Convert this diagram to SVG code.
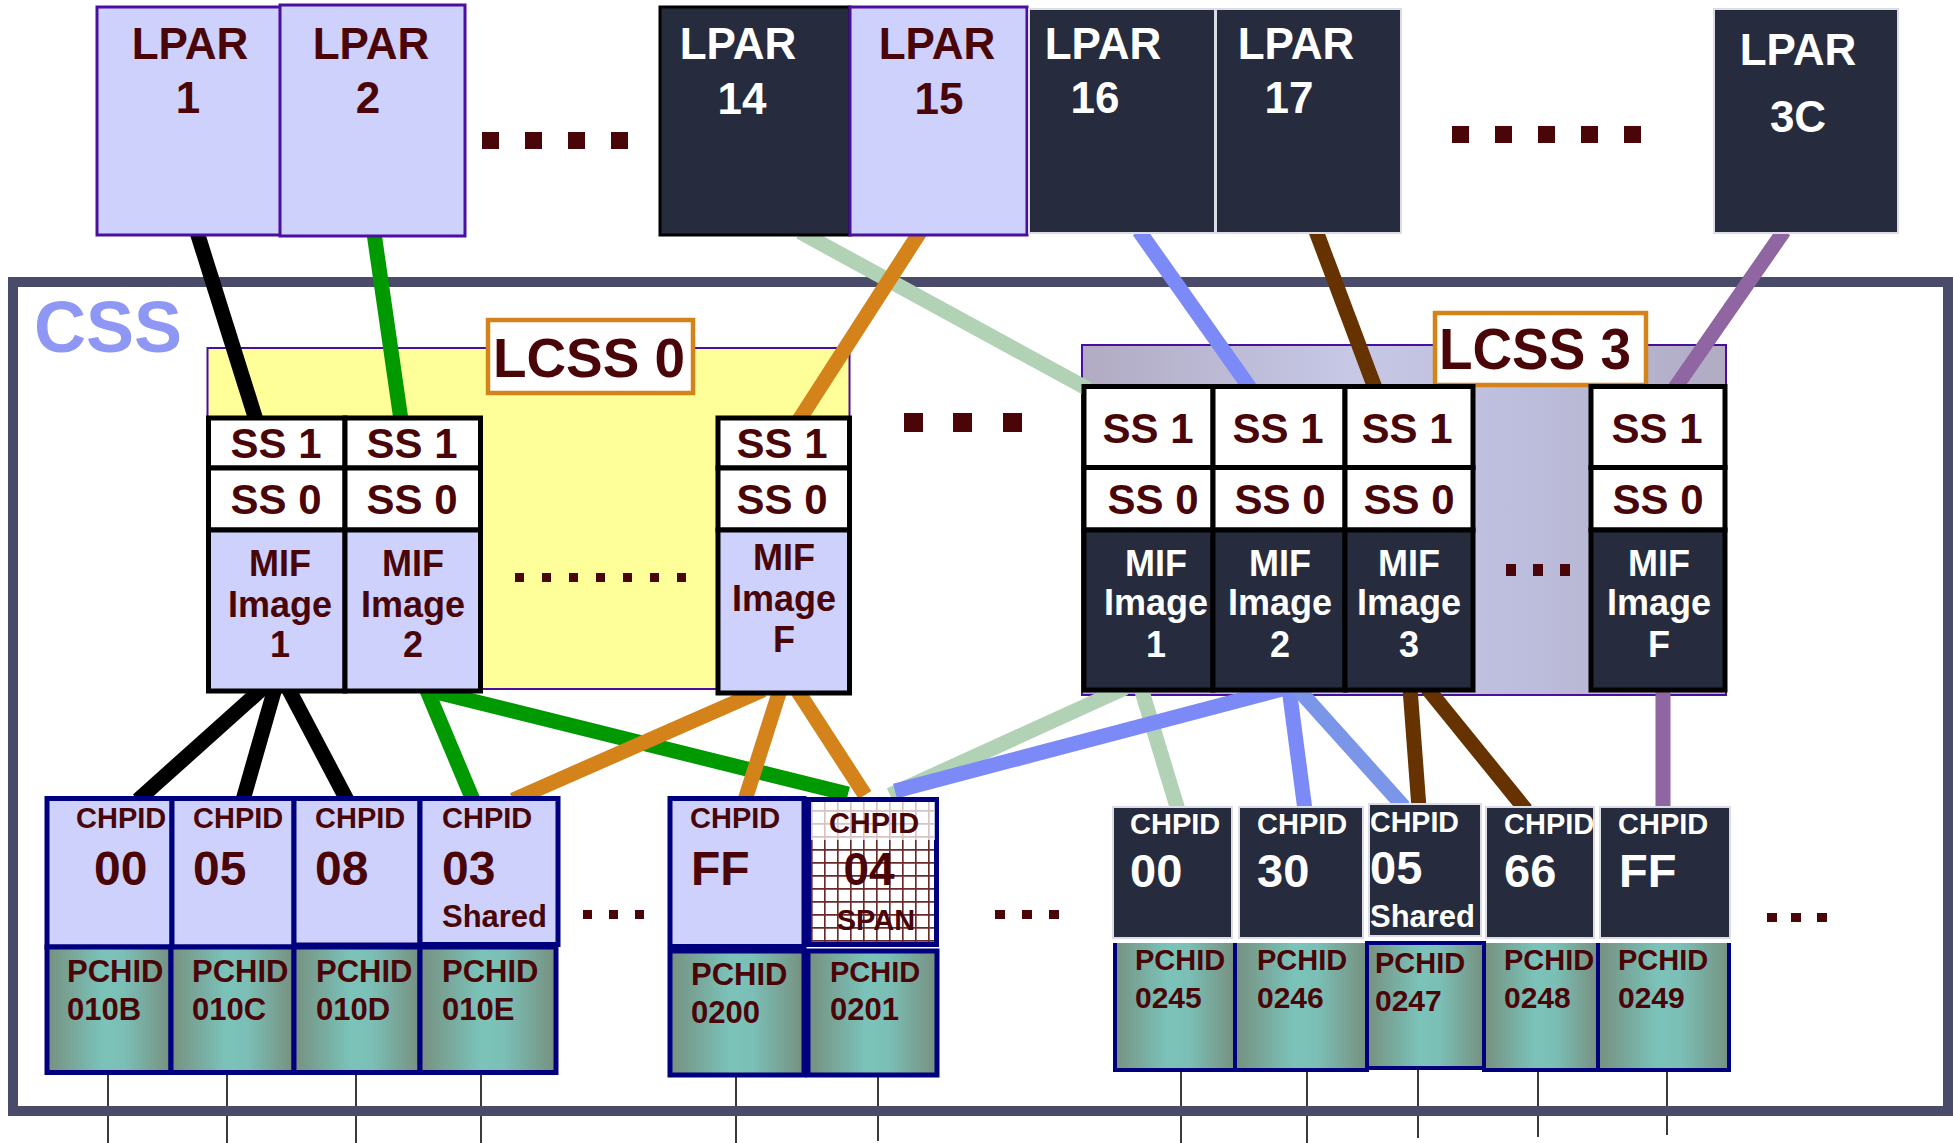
<svg xmlns="http://www.w3.org/2000/svg" width="1953" height="1143" viewBox="0 0 1953 1143">
<style>
.t{font-family:"Liberation Sans",Arial,sans-serif;font-weight:bold}
.m{fill:#4a0508}.w{fill:#ffffff}.c{text-anchor:middle}
.lpl{fill:#cdd1fb;stroke:#4b0fa0;stroke-width:3}
.lpd{fill:#262b3e;stroke:#dcdce6;stroke-width:2}
.ss{fill:#ffffff;stroke:#000;stroke-width:5}
.mifl{fill:#cdd1fb;stroke:#000;stroke-width:5}
.mifd{fill:#262b3e;stroke:#000;stroke-width:5}
.chl{fill:#cdd1fb;stroke:#00007f;stroke-width:5}
.chd{fill:#262b3e;stroke:#dcdce6;stroke-width:2}
.pcl{fill:url(#teal);stroke:#00007f;stroke-width:5}
.pcd{fill:url(#teal)}
.pb{fill:none;stroke:#00007f;stroke-width:4}
.dot{fill:#4a0508}
.thin{stroke:#3a3a3a;stroke-width:2}
.cn line{stroke-width:15;stroke-linecap:butt}
.k{stroke:#000}.g{stroke:#009900}.lg{stroke:#b1d2b4}.o{stroke:#d4821a}.b{stroke:#7b8af7}.b2{stroke:#7b96e8}.br{stroke:#663300}.p{stroke:#8f65a2}
</style>
<defs>
<linearGradient id="teal" x1="0" y1="0" x2="1" y2="0">
<stop offset="0" stop-color="#76907f"/><stop offset="0.45" stop-color="#7bc3ba"/><stop offset="0.62" stop-color="#7bbfb6"/><stop offset="1" stop-color="#76907f"/>
</linearGradient>
<linearGradient id="l3" x1="0" y1="0" x2="1" y2="0">
<stop offset="0" stop-color="#b1abc3"/><stop offset="0.42" stop-color="#c6c8e6"/><stop offset="0.7" stop-color="#bcbddc"/><stop offset="1" stop-color="#b1abc3"/>
</linearGradient>
<pattern id="grid" x="811" y="797" width="13" height="13" patternUnits="userSpaceOnUse">
<rect width="13" height="13" fill="#ffffff"/>
<path d="M0 0.75H13M0.75 0V13" stroke="#6b2a2a" stroke-width="1.8" fill="none"/>
</pattern>
</defs>
<rect width="1953" height="1143" fill="#ffffff"/>

<g id="pchid-wires">
<line class="thin" x1="108" y1="1073" x2="108" y2="1143"/>
<line class="thin" x1="227" y1="1073" x2="227" y2="1143"/>
<line class="thin" x1="356" y1="1073" x2="356" y2="1143"/>
<line class="thin" x1="481" y1="1073" x2="481" y2="1143"/>
<line class="thin" x1="736" y1="1075" x2="736" y2="1143"/>
<line class="thin" x1="878" y1="1075" x2="878" y2="1141"/>
<line class="thin" x1="1181" y1="1070" x2="1181" y2="1143"/>
<line class="thin" x1="1307" y1="1070" x2="1307" y2="1143"/>
<line class="thin" x1="1418" y1="1068" x2="1418" y2="1138"/>
<line class="thin" x1="1538" y1="1070" x2="1538" y2="1137"/>
<line class="thin" x1="1667" y1="1070" x2="1667" y2="1135"/>
</g>

<g id="css">
<rect x="13" y="282" width="1935" height="829" fill="none" stroke="#4a4a6a" stroke-width="10"/>
<text x="34" y="352" class="t" font-size="72" fill="#8f97f5">CSS</text>
</g>

<g id="lcss0">
<rect x="207.5" y="348" width="642" height="341" fill="#ffff99" stroke="#4b0fa0" stroke-width="2"/>
<rect x="488" y="320" width="205" height="73" fill="#ffffff" stroke="#d4821a" stroke-width="4.5"/>
<text x="589" y="377" class="t m c" font-size="56" textLength="192" lengthAdjust="spacingAndGlyphs">LCSS 0</text>
</g>

<g id="lcss3">
<rect x="1082" y="345" width="644" height="350" fill="url(#l3)" stroke="#4b0fa0" stroke-width="2"/>
<rect x="1435" y="313" width="211" height="72" fill="#ffffff" stroke="#d4821a" stroke-width="4.5"/>
<text x="1535" y="369" class="t m c" font-size="57" textLength="192" lengthAdjust="spacingAndGlyphs">LCSS 3</text>
</g>

<g id="connectors" class="cn">
<line class="k" x1="197" y1="232" x2="256" y2="420"/>
<line class="g" x1="374" y1="233" x2="401" y2="420"/>
<line class="lg" x1="800" y1="232" x2="1088" y2="389"/>
<line class="o" x1="920" y1="232" x2="799" y2="420"/>
<line class="b" x1="1139" y1="231" x2="1250" y2="388"/>
<line class="br" x1="1316" y1="231" x2="1375" y2="388"/>
<line class="p" x1="1784" y1="231" x2="1675" y2="388"/>
<line class="k" x1="263" y1="688" x2="138" y2="800"/>
<line class="k" x1="275" y1="688" x2="243" y2="800"/>
<line class="k" x1="288" y1="688" x2="347" y2="800"/>
<line class="g" x1="426" y1="688" x2="473" y2="800"/>
<line class="g" x1="428" y1="690" x2="848" y2="794"/>
<line class="o" x1="763" y1="690" x2="513" y2="800"/>
<line class="o" x1="780" y1="690" x2="745" y2="800"/>
<line class="o" x1="797" y1="690" x2="865" y2="795"/>
<line class="lg" x1="1125" y1="688" x2="890" y2="795"/>
<line class="lg" x1="1141" y1="688" x2="1178" y2="810"/>
<line class="b" x1="1286" y1="688" x2="895" y2="791"/>
<line class="b" x1="1289" y1="688" x2="1305" y2="810"/>
<line class="b2" x1="1297" y1="688" x2="1404" y2="807"/>
<line class="br" x1="1410" y1="688" x2="1419" y2="808"/>
<line class="br" x1="1427" y1="688" x2="1526" y2="810"/>
<line class="p" x1="1663" y1="688" x2="1663" y2="810"/>
</g>

<g id="lpar1"><rect class="lpl" x="97" y="7" width="184" height="228"/><text x="190" y="59" class="t m c" font-size="44">LPAR</text><text x="188" y="113" class="t m c" font-size="44">1</text></g>
<g id="lpar2"><rect class="lpl" x="280" y="5" width="185" height="231"/><text x="371" y="59" class="t m c" font-size="44">LPAR</text><text x="368" y="113" class="t m c" font-size="44">2</text></g>
<g id="lpar14"><rect x="660" y="7" width="190" height="228" fill="#262b3e" stroke="#000" stroke-width="3"/><text x="738" y="59" class="t w c" font-size="44">LPAR</text><text x="742" y="114" class="t w c" font-size="44">14</text></g>
<g id="lpar15"><rect class="lpl" x="850" y="7" width="177" height="228"/><text x="937" y="59" class="t m c" font-size="44">LPAR</text><text x="939" y="114" class="t m c" font-size="44">15</text></g>
<g id="lpar16"><rect class="lpd" x="1029" y="9" width="186" height="224"/><text x="1103" y="59" class="t w c" font-size="44">LPAR</text><text x="1095" y="113" class="t w c" font-size="44">16</text></g>
<g id="lpar17"><rect class="lpd" x="1216" y="9" width="185" height="224"/><text x="1296" y="59" class="t w c" font-size="44">LPAR</text><text x="1289" y="113" class="t w c" font-size="44">17</text></g>
<g id="lpar3c"><rect class="lpd" x="1714" y="9" width="184" height="224"/><text x="1798" y="65" class="t w c" font-size="44">LPAR</text><text x="1798" y="132" class="t w c" font-size="44">3C</text></g>

<g id="lcss0-img1">
<rect class="ss" x="208.5" y="418" width="136.5" height="50"/><text x="276" y="458" class="t m c" font-size="42">SS 1</text>
<rect class="ss" x="208.5" y="468" width="136.5" height="62"/><text x="276" y="514" class="t m c" font-size="42">SS 0</text>
<rect class="mifl" x="208.5" y="530" width="136.5" height="161"/>
<text class="t m c" font-size="36"><tspan x="280" y="576">MIF</tspan><tspan x="280" y="617">Image</tspan><tspan x="280" y="657">1</tspan></text>
</g>
<g id="lcss0-img2">
<rect class="ss" x="345" y="418" width="135.5" height="50"/><text x="412" y="458" class="t m c" font-size="42">SS 1</text>
<rect class="ss" x="345" y="468" width="135.5" height="62"/><text x="412" y="514" class="t m c" font-size="42">SS 0</text>
<rect class="mifl" x="345" y="530" width="135.5" height="161"/>
<text class="t m c" font-size="36"><tspan x="413" y="576">MIF</tspan><tspan x="413" y="617">Image</tspan><tspan x="413" y="657">2</tspan></text>
</g>
<g id="lcss0-imgF">
<rect class="ss" x="718" y="418" width="131.5" height="50"/><text x="782" y="458" class="t m c" font-size="42">SS 1</text>
<rect class="ss" x="718" y="468" width="131.5" height="62"/><text x="782" y="514" class="t m c" font-size="42">SS 0</text>
<rect class="mifl" x="718" y="530" width="131.5" height="163"/>
<text class="t m c" font-size="36"><tspan x="784" y="570">MIF</tspan><tspan x="784" y="611">Image</tspan><tspan x="784" y="652">F</tspan></text>
</g>

<g id="lcss3-img1">
<rect class="ss" x="1084" y="386.5" width="129" height="81"/><text x="1148" y="443" class="t m c" font-size="42">SS 1</text>
<rect class="ss" x="1084" y="467.5" width="129" height="62.5"/><text x="1153" y="514" class="t m c" font-size="42">SS 0</text>
<rect class="mifd" x="1084" y="530" width="129" height="160"/>
<text class="t w c" font-size="36"><tspan x="1156" y="576">MIF</tspan><tspan x="1156" y="615">Image</tspan><tspan x="1156" y="657">1</tspan></text>
</g>
<g id="lcss3-img2">
<rect class="ss" x="1213" y="386.5" width="132" height="81"/><text x="1278" y="443" class="t m c" font-size="42">SS 1</text>
<rect class="ss" x="1213" y="467.5" width="132" height="62.5"/><text x="1280" y="514" class="t m c" font-size="42">SS 0</text>
<rect class="mifd" x="1213" y="530" width="132" height="160"/>
<text class="t w c" font-size="36"><tspan x="1280" y="576">MIF</tspan><tspan x="1280" y="615">Image</tspan><tspan x="1280" y="657">2</tspan></text>
</g>
<g id="lcss3-img3">
<rect class="ss" x="1345" y="386.5" width="128" height="81"/><text x="1407" y="443" class="t m c" font-size="42">SS 1</text>
<rect class="ss" x="1345" y="467.5" width="128" height="62.5"/><text x="1409" y="514" class="t m c" font-size="42">SS 0</text>
<rect class="mifd" x="1345" y="530" width="128" height="160"/>
<text class="t w c" font-size="36"><tspan x="1409" y="576">MIF</tspan><tspan x="1409" y="615">Image</tspan><tspan x="1409" y="657">3</tspan></text>
</g>
<g id="lcss3-imgF">
<rect class="ss" x="1591" y="386.5" width="134" height="81"/><text x="1657" y="443" class="t m c" font-size="42">SS 1</text>
<rect class="ss" x="1591" y="467.5" width="134" height="62.5"/><text x="1658" y="514" class="t m c" font-size="42">SS 0</text>
<rect class="mifd" x="1591" y="530" width="134" height="160"/>
<text class="t w c" font-size="36"><tspan x="1659" y="576">MIF</tspan><tspan x="1659" y="615">Image</tspan><tspan x="1659" y="657">F</tspan></text>
</g>

<g id="chpid00"><rect class="chl" x="47" y="798.5" width="125" height="148.5"/><text x="76" y="828" class="t m" font-size="29">CHPID</text><text x="94" y="885" class="t m" font-size="48">00</text></g>
<g id="chpid05"><rect class="chl" x="172" y="798.5" width="122" height="148.5"/><text x="193" y="828" class="t m" font-size="29">CHPID</text><text x="193" y="885" class="t m" font-size="48">05</text></g>
<g id="chpid08"><rect class="chl" x="294" y="798.5" width="126" height="146.5"/><text x="315" y="828" class="t m" font-size="29">CHPID</text><text x="315" y="885" class="t m" font-size="48">08</text></g>
<g id="chpid03"><rect class="chl" x="420" y="798.5" width="138" height="146"/><text x="442" y="828" class="t m" font-size="29">CHPID</text><text x="442" y="885" class="t m" font-size="48">03</text><text x="442" y="927" class="t m" font-size="31" textLength="105" lengthAdjust="spacingAndGlyphs">Shared</text></g>
<g id="pchid010B"><rect class="pcl" x="47" y="947" width="124" height="125.5"/><text x="67" y="982" class="t m" font-size="31">PCHID</text><text x="67" y="1020" class="t m" font-size="31">010B</text></g>
<g id="pchid010C"><rect class="pcl" x="171" y="947" width="123" height="125.5"/><text x="192" y="982" class="t m" font-size="31">PCHID</text><text x="192" y="1020" class="t m" font-size="31">010C</text></g>
<g id="pchid010D"><rect class="pcl" x="294" y="947" width="126" height="125.5"/><text x="316" y="982" class="t m" font-size="31">PCHID</text><text x="316" y="1020" class="t m" font-size="31">010D</text></g>
<g id="pchid010E"><rect class="pcl" x="420" y="947" width="136" height="125.5"/><text x="442" y="982" class="t m" font-size="31">PCHID</text><text x="442" y="1020" class="t m" font-size="31">010E</text></g>

<g id="chpidFF"><rect class="chl" x="670" y="798.5" width="134" height="148"/><text x="690" y="828" class="t m" font-size="29">CHPID</text><text x="691" y="885" class="t m" font-size="48">FF</text></g>
<g id="chpid04">
<rect x="808.5" y="799.5" width="128" height="145" fill="url(#grid)" stroke="#00007f" stroke-width="5"/>
<rect x="811" y="802" width="124" height="38" fill="#ffffff" opacity="0.72"/>
<text x="874" y="833" class="t m c" font-size="29">CHPID</text><text x="869" y="885" class="t m c" font-size="46">04</text><text x="876" y="930" class="t m c" font-size="29">SPAN</text>
</g>
<g id="pchid0200"><rect class="pcl" x="670" y="951" width="134" height="124"/><text x="691" y="985" class="t m" font-size="31">PCHID</text><text x="691" y="1023" class="t m" font-size="31">0200</text></g>
<g id="pchid0201"><rect class="pcl" x="808" y="951" width="129" height="124"/><text x="830" y="982" class="t m" font-size="29">PCHID</text><text x="830" y="1020" class="t m" font-size="31">0201</text></g>

<g id="chpid00-3"><rect class="chd" x="1113" y="807" width="119" height="131"/><text x="1130" y="834" class="t w" font-size="29">CHPID</text><text x="1130" y="887" class="t w" font-size="47">00</text></g>
<g id="chpid30-3"><rect class="chd" x="1239" y="807" width="124" height="131"/><text x="1257" y="834" class="t w" font-size="29">CHPID</text><text x="1257" y="887" class="t w" font-size="47">30</text></g>
<g id="chpid05-3"><rect class="chd" x="1369" y="804" width="112" height="132"/><text x="1370" y="832" class="t w" font-size="29" textLength="89" lengthAdjust="spacingAndGlyphs">CHPID</text><text x="1370" y="884" class="t w" font-size="47">05</text><text x="1370" y="927" class="t w" font-size="31" textLength="105" lengthAdjust="spacingAndGlyphs">Shared</text></g>
<g id="chpid66-3"><rect class="chd" x="1486" y="807" width="108" height="131"/><text x="1504" y="834" class="t w" font-size="29">CHPID</text><text x="1504" y="887" class="t w" font-size="47">66</text></g>
<g id="chpidFF-3"><rect class="chd" x="1600" y="807" width="130" height="131"/><text x="1618" y="834" class="t w" font-size="29">CHPID</text><text x="1619" y="887" class="t w" font-size="47">FF</text></g>

<g id="pchid0245"><rect class="pcd" x="1113" y="943" width="122" height="127"/><path class="pb" d="M1115 943V1070H1235V943"/><text x="1135" y="970" class="t m" font-size="29">PCHID</text><text x="1135" y="1008" class="t m" font-size="30">0245</text></g>
<g id="pchid0246"><rect class="pcd" x="1235" y="943" width="132" height="127"/><path class="pb" d="M1235 943V1070H1367V943"/><text x="1257" y="970" class="t m" font-size="29">PCHID</text><text x="1257" y="1008" class="t m" font-size="30">0246</text></g>
<g id="pchid0247"><rect class="pcd" x="1367" y="943" width="117" height="125"/><path class="pb" d="M1367 943V1068H1484V943Z"/><text x="1375" y="973" class="t m" font-size="29">PCHID</text><text x="1375" y="1011" class="t m" font-size="30">0247</text></g>
<g id="pchid0248"><rect class="pcd" x="1484" y="943" width="114" height="127"/><path class="pb" d="M1484 943V1070H1598V943"/><text x="1504" y="970" class="t m" font-size="29">PCHID</text><text x="1504" y="1008" class="t m" font-size="30">0248</text></g>
<g id="pchid0249"><rect class="pcd" x="1598" y="943" width="133" height="127"/><path class="pb" d="M1598 943V1070H1729V943"/><text x="1618" y="970" class="t m" font-size="29">PCHID</text><text x="1618" y="1008" class="t m" font-size="30">0249</text></g>

<g id="ellipses">
<rect class="dot" x="482" y="132" width="17" height="17"/><rect class="dot" x="525" y="132" width="17" height="17"/><rect class="dot" x="568" y="132" width="17" height="17"/><rect class="dot" x="611" y="132" width="17" height="17"/>
<rect class="dot" x="1452" y="126" width="17" height="17"/><rect class="dot" x="1495" y="126" width="17" height="17"/><rect class="dot" x="1538" y="126" width="17" height="17"/><rect class="dot" x="1581" y="126" width="17" height="17"/><rect class="dot" x="1624" y="126" width="17" height="17"/>
<rect class="dot" x="904" y="413" width="19" height="19"/><rect class="dot" x="953" y="413" width="19" height="19"/><rect class="dot" x="1003" y="413" width="19" height="19"/>
<rect class="dot" x="515" y="573" width="9" height="9"/><rect class="dot" x="542" y="573" width="9" height="9"/><rect class="dot" x="569" y="573" width="9" height="9"/><rect class="dot" x="596" y="573" width="9" height="9"/><rect class="dot" x="623" y="573" width="9" height="9"/><rect class="dot" x="650" y="573" width="9" height="9"/><rect class="dot" x="677" y="573" width="9" height="9"/>
<rect class="dot" x="1506" y="564" width="10" height="12"/><rect class="dot" x="1533" y="564" width="10" height="12"/><rect class="dot" x="1560" y="564" width="10" height="12"/>
<rect class="dot" x="583" y="910" width="9" height="9"/><rect class="dot" x="609" y="910" width="9" height="9"/><rect class="dot" x="635" y="910" width="9" height="9"/>
<rect class="dot" x="995" y="910" width="10" height="9"/><rect class="dot" x="1022" y="910" width="10" height="9"/><rect class="dot" x="1049" y="910" width="10" height="9"/>
<rect class="dot" x="1767" y="913" width="10" height="9"/><rect class="dot" x="1791" y="913" width="10" height="9"/><rect class="dot" x="1817" y="913" width="10" height="9"/>
</g>
</svg>
